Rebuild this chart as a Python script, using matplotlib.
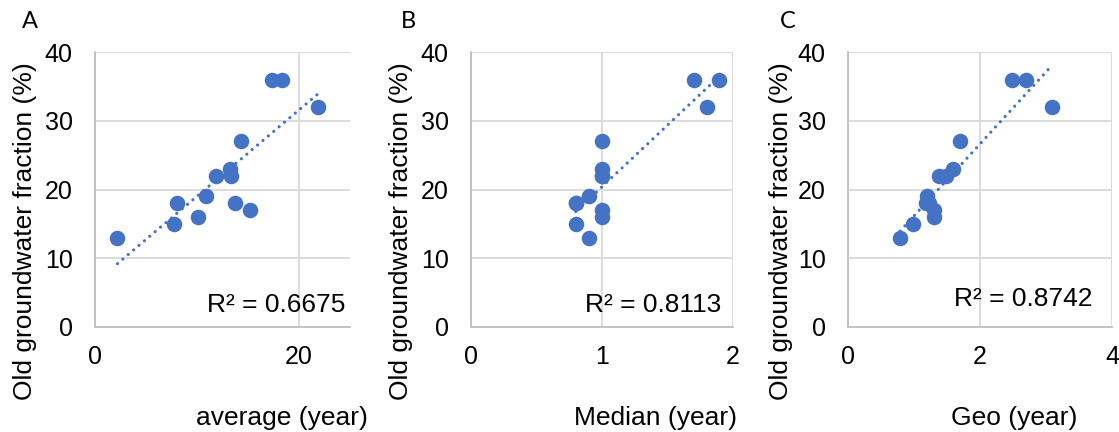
import numpy as np
import matplotlib
matplotlib.use("Agg")
import matplotlib.pyplot as plt

# Old groundwater fraction (%) - shared y values
fraction = [13, 18, 15, 16, 19, 22, 23, 22, 18, 27, 17, 36, 36, 32]
# x values for each panel
average_age = [2.2, 8.0, 7.7, 10.1, 10.9, 11.9, 13.2, 13.3, 13.7, 14.3, 15.2, 17.4, 18.3, 21.9]
median_age = [0.9, 0.8, 0.8, 1.0, 0.9, 1.0, 1.0, 1.0, 0.8, 1.0, 1.0, 1.7, 1.89, 1.8]
geo_age = [0.79, 1.18, 0.99, 1.30, 1.20, 1.38, 1.59, 1.49, 1.22, 1.69, 1.30, 2.48, 2.69, 3.09]

panel_letters = ["A", "B", "C"]
x_titles = ["average (year)", "Median (year)", "Geo (year)"]
r2_labels = ["R\u00b2 = 0.6675", "R\u00b2 = 0.8113", "R\u00b2 = 0.8742"]
x_limits = [(0, 25), (0, 2), (0, 4)]
x_ticks = [[0, 20], [0, 1, 2], [0, 2, 4]]
y_ticks = [0, 10, 20, 30, 40]
ylabel = "Old groundwater fraction (%)"

W, H = 1119, 432
fig = plt.figure(figsize=(W / 100, H / 100), dpi=100)

BLUE = "#4472C4"
GRID = "#d9d9d9"
FONT = "Liberation Sans"

# pixel layouts
lefts = [95, 471, 848]
rights = [350, 733, 1112]
top, bottom = 52, 327
ylab_x = [25, 401, 781]
xlab_x = [282, 655, 1014]
letter_x = [30, 408, 788]
r2_right = [345, 721, 1093]
r2_y = [305, 305, 299]

xs_all = [average_age, median_age, geo_age]

def fx(px):
    return px / W

def fy(py):
    return 1 - py / H

for i in range(3):
    ax = fig.add_axes([fx(lefts[i]), fy(bottom), (rights[i] - lefts[i]) / W, (bottom - top) / H])
    x = np.array(xs_all[i])
    y = np.array(fraction)
    ax.set_xlim(*x_limits[i])
    ax.set_ylim(0, 40)
    ax.set_xticks(x_ticks[i])
    ax.set_yticks(y_ticks)
    ax.grid(True, color=GRID, linewidth=1.3)
    ax.set_axisbelow(True)
    for s in ["top", "right"]:
        ax.spines[s].set_visible(False)
    for s in ["left", "bottom"]:
        ax.spines[s].set_color("#bfbfbf")
        ax.spines[s].set_linewidth(1.3)
    ax.tick_params(length=0, labelsize=18, colors="black", pad=16)
    for lab in ax.get_xticklabels() + ax.get_yticklabels():
        lab.set_fontfamily(FONT)
    ax.tick_params(axis="x", pad=13)

    ax.scatter(x, y, s=125, color=BLUE, zorder=3, linewidths=0)
    m, b = np.polyfit(x, y, 1)
    xx = np.array([x.min(), x.max()])
    ax.plot(xx, m * xx + b, color=BLUE, linewidth=2.3,
            linestyle=(0, (0.01, 2.2)), dash_capstyle="round", zorder=2)

    fig.text(fx(r2_right[i]), fy(r2_y[i]), r2_labels[i], ha="right", va="center",
             fontsize=19, family=FONT)
    fig.text(fx(ylab_x[i]), fy(231), ylabel, rotation=90, ha="center", va="center",
             fontsize=19, family=FONT)
    fig.text(fx(xlab_x[i]), fy(418), x_titles[i], ha="center", va="center",
             fontsize=19, family=FONT)
    fig.text(fx(letter_x[i]), fy(22), panel_letters[i], ha="center", va="center",
             fontsize=17, family=["Lato", "DejaVu Sans"])

fig.savefig("out.png", dpi=100)
